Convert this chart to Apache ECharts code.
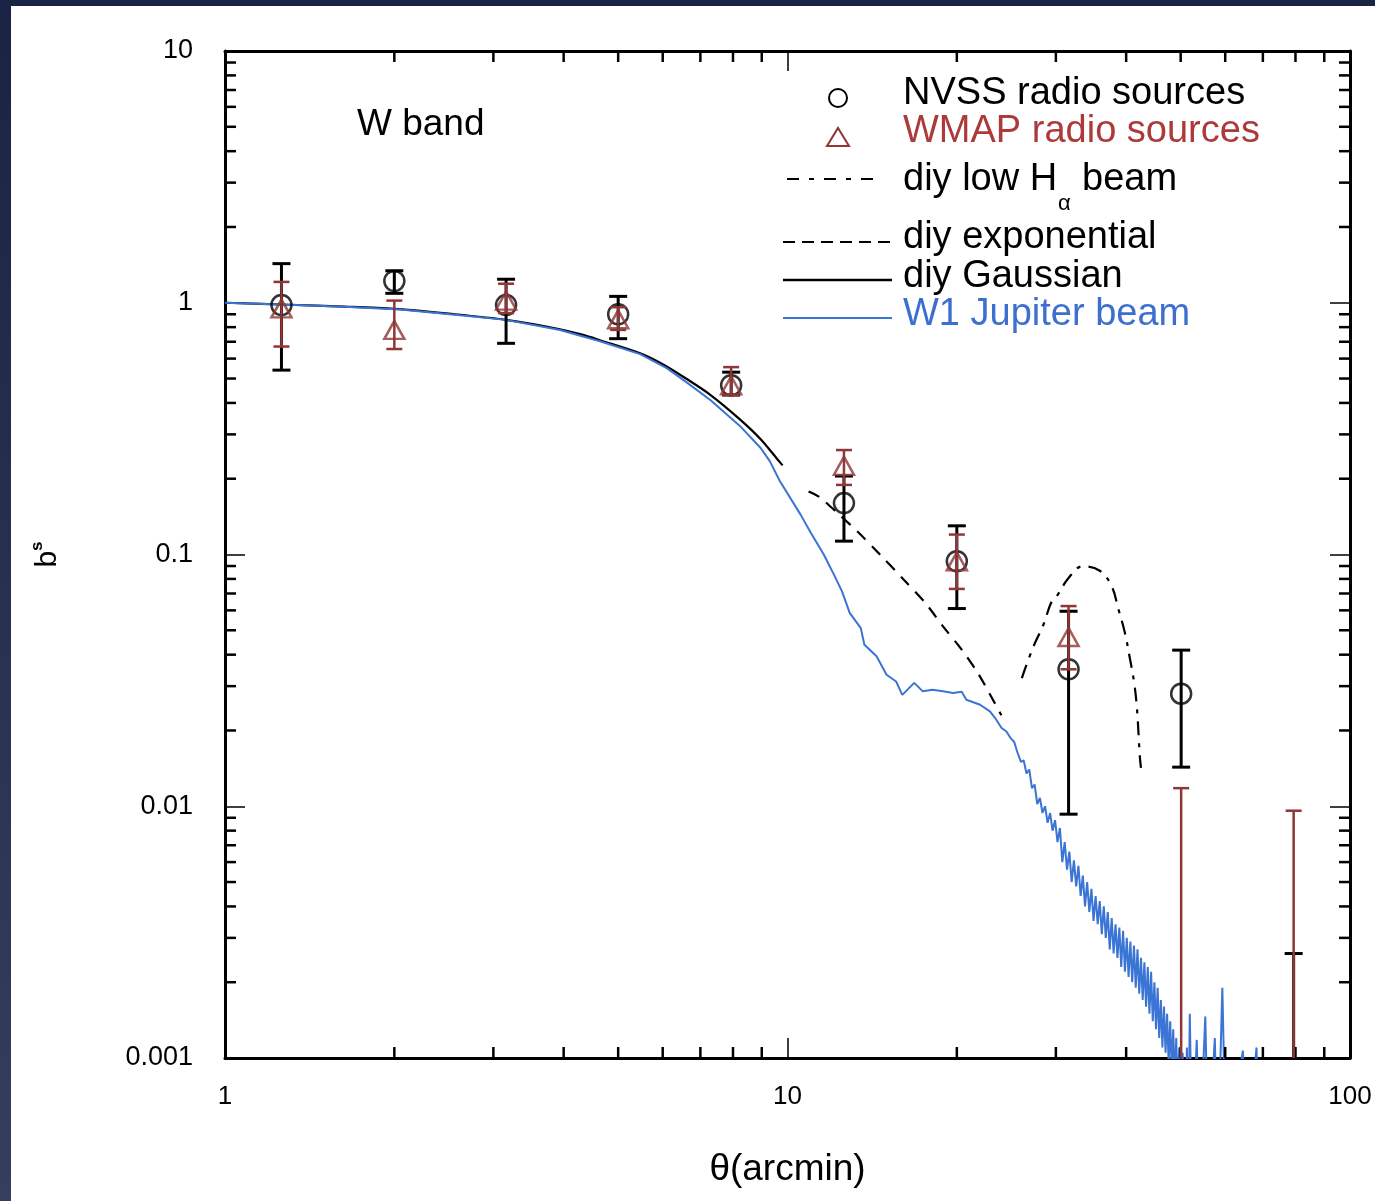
<!DOCTYPE html>
<html><head><meta charset="utf-8">
<script src="https://cdn.jsdelivr.net/npm/echarts@6/dist/echarts.min.js"></script>
<style>
html,body{margin:0;padding:0;background:#fff;overflow:hidden}
#chart{position:absolute;left:0;top:0;width:1375px;height:1201px}
#edgeL{position:absolute;left:0;top:0;width:11px;height:1201px;background:linear-gradient(#1b2344,#363e5f)}
#edgeT{position:absolute;left:0;top:0;width:1375px;height:6px;background:#1b2344}
</style></head><body>
<div id="chart"></div><div id="edgeL"></div><div id="edgeT"></div>
<script>
// ---- data ----
const thetaBins = [1.26, 2.0, 3.16, 5.0, 7.94, 12.6, 20.0, 31.6, 50.1, 79.4];
const nvssVal = [0.98, 1.22, 0.98, 0.90, 0.47, 0.16, 0.094, 0.035, 0.028, null];
const nvssHi  = [1.43, 1.34, 1.24, 1.06, 0.53, 0.205, 0.13, 0.0595, 0.0417, 0.0026];
const nvssLo  = [0.54, 1.09, 0.69, 0.72, 0.43, 0.113, 0.061, 0.0093, 0.0143, 0.0001];
const wmapVal = [0.95, 0.78, 1.02, 0.86, 0.47, 0.225, 0.094, 0.047, null, null];
const wmapHi  = [1.21, 1.02, 1.19, 0.96, 0.555, 0.26, 0.12, 0.0624, 0.0118, 0.0096];
const wmapLo  = [0.67, 0.655, 0.91, 0.78, 0.43, 0.189, 0.073, 0.035, 0.0001, 0.0001];

const gaussianBeam = [[1,1],[1.3,0.982],[1.63,0.965],[2.0,0.945],[2.5,0.905],[3.16,0.855],[3.94,0.785],[4.33,0.745],[4.64,0.71],[5.47,0.63],[6.0,0.57],[6.6,0.5],[7.3,0.43],[8.22,0.345],[8.96,0.287],[9.61,0.238],[9.8,0.226]];
const expBeam = [[10.9,0.178],[11.4,0.169],[12.4,0.143],[13.4,0.1217],[14.6,0.1],[16.1,0.0794],[17.6,0.064],[18.9,0.0518],[20.4,0.0419],[21.8,0.0338],[23.4,0.0255],[24.0,0.023]];
const lowHBeam = [[26.1,0.0323],[27.3,0.0425],[28.5,0.0526],[29.5,0.0652],[30.2,0.069],[31.6,0.0807],[33.5,0.0898],[35.9,0.0862],[37.7,0.0748],[38.7,0.0613],[39.8,0.0488],[40.6,0.0388],[41.3,0.0313],[41.8,0.0246],[42.3,0.0158],[42.5,0.0142]];
const jupiterBeam = [[1.0,1.0],[1.26,0.985],[1.63,0.965],[2.05,0.94],[2.51,0.9],[3.16,0.855],[3.94,0.78],[4.64,0.703],[5.47,0.625],[6.1,0.55],[6.6,0.485],[7.3,0.41],[8.22,0.325],[8.96,0.265],[9.3,0.235],[9.69,0.196],[10.55,0.144],[11.0,0.122],[11.6,0.1],[12.1,0.083],[12.5,0.0714],[12.9,0.0586],[13.5,0.051],[13.7,0.0438],[14.4,0.0394],[15.0,0.0333],[15.6,0.0313],[16.0,0.0277],[16.8,0.0309],[17.4,0.0286],[18.1,0.029],[18.9,0.0286],[19.7,0.0282],[20.4,0.0285],[20.8,0.0265],[22.0,0.0253],[22.9,0.0238],[23.4,0.0224],[24.0,0.0205],[24.5,0.0198],[24.9,0.0187],[25.3,0.018],[25.6,0.0165],
[26.0,0.0150],[26.3,0.0152],[26.6,0.0135],[26.9,0.0140],[27.2,0.0118],[27.5,0.0122],[27.8,0.0102],[28.1,0.0108],[28.4,0.0094],[28.7,0.0100],[29.0,0.0086],[29.3,0.0094],[29.6,0.0080],[29.9,0.0088],[30.2,0.0072],[30.5,0.0082],[30.8,0.0060],[31.1,0.0072],[31.4,0.0056],[31.7,0.0066],[32.0,0.0050],[32.3,0.0061],[32.6,0.0048],[32.9,0.0058],[33.2,0.0044],[33.5,0.0053],[33.8,0.0040],[34.1,0.0050],[34.4,0.0038],[34.7,0.0047],[35.0,0.0035],[35.3,0.0044],[35.6,0.0034],[35.9,0.0042],[36.2,0.0031],[36.5,0.0040],[36.8,0.0030],[37.1,0.0038],[37.4,0.0027],[37.7,0.0036],[38.0,0.0026],[38.3,0.0034],[38.6,0.0025],[38.9,0.0033],[39.2,0.0023],[39.5,0.0032],[39.8,0.0022],[40.1,0.0030],[40.4,0.0021],[40.7,0.0029],[41.0,0.0020],[41.3,0.0028],[41.6,0.0019],[41.9,0.0027],[42.2,0.0018],[42.5,0.0025],[42.8,0.0017],[43.1,0.0024],[43.4,0.0016],[43.7,0.0023],[44.0,0.0015],[44.3,0.0022],[44.6,0.0014],[44.9,0.0020],[45.2,0.0013],[45.5,0.0019],[45.8,0.0012],[46.1,0.0017],[46.4,0.0011],[46.7,0.0016],[47.0,0.00105],[47.3,0.0015],[47.6,0.00095],[47.9,0.0014],[48.2,0.0009],[48.5,0.0013],[48.8,0.0008],[49.1,0.0012],[49.4,0.0007],[49.7,0.0011],[50.0,0.0006],[50.4,0.00105],[50.8,0.0005],[51.3,0.0011],[51.6,0.0004],[51.9,0.0015],[52.4,0.0004],[53.4,0.00118],[54.0,0.0004],[55.3,0.00146],[56.0,0.0004],[57.5,0.0012],[58.2,0.0004],[59.3,0.0019],[60.2,0.0004],[64.5,0.00107],[65.5,0.0004],[68.2,0.0011],[69.0,0.0004]];

const xTickLabels = ['1', '10', '100'];
const yTickLabels = ['0.001', '0.01', '0.1', '1', '10'];
const xMinorTicks = [2,3,4,5,6,7,8,9,20,30,40,50,60,70,80,90];
const yMinorTicks = [0.002,0.003,0.004,0.005,0.006,0.007,0.008,0.009,0.02,0.03,0.04,0.05,0.06,0.07,0.08,0.09,0.2,0.3,0.4,0.5,0.6,0.7,0.8,0.9,2,3,4,5,6,7,8,9];

// ---- styles ----
const FONT = "'Liberation Sans', Arial, Helvetica, sans-serif";
const RED = '#8f3636', REDTXT = '#ad3a3a', BLUE = '#3a74d4', BLUETXT = '#3c6fd0';

function errSeries(name, lo, hi, color, barW, capW, z) {
  return {
    type: 'custom', name, z, clip: true, silent: true,
    data: thetaBins.map((t, i) => [t, lo[i], hi[i]]),
    renderItem(params, api) {
      const x = api.value(0);
      const p1 = api.coord([x, api.value(1)]);
      const p2 = api.coord([x, api.value(2)]);
      const h = capW / 2;
      const st = { stroke: color, lineWidth: barW };
      return { type: 'group', children: [
        { type: 'line', shape: { x1: p1[0], y1: p1[1], x2: p2[0], y2: p2[1] }, style: st },
        { type: 'line', shape: { x1: p1[0] - h, y1: p1[1], x2: p1[0] + h, y2: p1[1] }, style: st },
        { type: 'line', shape: { x1: p2[0] - h, y1: p2[1], x2: p2[0] + h, y2: p2[1] }, style: st }
      ]};
    }
  };
}
function minorTickSeries(values, isX) {
  return {
    type: 'custom', silent: true, z: 6, clip: false,
    data: values.map(v => isX ? [v, 1] : [1, v]),
    renderItem(params, api) {
      const st = { stroke: '#000', lineWidth: 2.5 };
      const L = 11;
      if (isX) {
        const v = api.value(0);
        const b = api.coord([v, 0.001]), t = api.coord([v, 10]);
        return { type: 'group', children: [
          { type: 'line', shape: { x1: b[0], y1: b[1], x2: b[0], y2: b[1] - L }, style: st },
          { type: 'line', shape: { x1: t[0], y1: t[1], x2: t[0], y2: t[1] + L }, style: st }
        ]};
      } else {
        const v = api.value(1);
        const l = api.coord([1, v]), r = api.coord([100, v]);
        return { type: 'group', children: [
          { type: 'line', shape: { x1: l[0], y1: l[1], x2: l[0] + L, y2: l[1] }, style: st },
          { type: 'line', shape: { x1: r[0], y1: r[1], x2: r[0] - L, y2: r[1] }, style: st }
        ]};
      }
    }
  };
}
const labelOf = (arr, v) => arr[Math.round(Math.log10(v)) - Math.round(Math.log10(parseFloat(arr[0])))] || '';

const axisCommon = {
  type: 'log', logBase: 10,
  axisLine: { show: true, onZero: false, lineStyle: { color: '#000', width: 3 } },
  axisTick: { show: true, inside: true, length: 20, lineStyle: { color: '#000', width: 1.5 } },
  splitLine: { show: false }, minorTick: { show: false }
};

const chart = echarts.init(document.getElementById('chart'), null, { renderer: 'canvas' });
chart.setOption({
  animation: false,
  backgroundColor: '#fff',
  grid: { left: 225, top: 51, width: 1125, height: 1007 },
  xAxis: [
    Object.assign({}, axisCommon, {
      min: 1, max: 100, position: 'bottom',
      axisLabel: { margin: 26, fontSize: 26, fontFamily: FONT, color: '#000', formatter: v => labelOf(xTickLabels, v) },
      name: 'θ(arcmin)', nameLocation: 'middle', nameGap: 93,
      nameTextStyle: { fontSize: 37, fontFamily: FONT, color: '#000' }
    }),
    Object.assign({}, axisCommon, { min: 1, max: 100, position: 'top', axisLabel: { show: false } })
  ],
  yAxis: [
    Object.assign({}, axisCommon, {
      min: 0.001, max: 10, position: 'left',
      axisLabel: { margin: 32, fontSize: 27, fontFamily: FONT, color: '#000', formatter: v => labelOf(yTickLabels, v) },
      name: '{b|b}{s|s}', nameLocation: 'middle', nameGap: 162, nameRotate: 90,
      nameTextStyle: { fontFamily: FONT, color: '#000', rich: {
        b: { fontSize: 30, fontFamily: FONT, color: '#000', verticalAlign: 'bottom', lineHeight: 34 },
        s: { fontSize: 17, fontFamily: FONT, color: '#000', verticalAlign: 'top', lineHeight: 34, fontWeight: 'bold' }
      }}
    }),
    Object.assign({}, axisCommon, { min: 0.001, max: 10, position: 'right', axisLabel: { show: false } })
  ],
  series: [
    { name: 'diy Gaussian', type: 'line', data: gaussianBeam, showSymbol: false, smooth: 0.3, z: 2,
      lineStyle: { color: '#000', width: 2.2 } },
    { name: 'diy exponential', type: 'line', data: expBeam, showSymbol: false, smooth: 0.3, z: 2,
      lineStyle: { color: '#000', width: 2.2, type: [12, 9] } },
    { name: 'diy low Hα beam', type: 'line', data: lowHBeam, showSymbol: false, smooth: 0.4, z: 2,
      lineStyle: { color: '#000', width: 2.2, type: [14, 8, 4, 8] } },
    { name: 'W1 Jupiter beam', type: 'line', data: jupiterBeam, showSymbol: false, z: 3,
      lineStyle: { color: BLUE, width: 2 } },
    errSeries('NVSS errors', nvssLo, nvssHi, '#000', 3, 18, 4),
    { name: 'NVSS radio sources', type: 'scatter', z: 5, symbol: 'circle', symbolSize: 20,
      data: thetaBins.map((t, i) => [t, nvssVal[i]]).filter(d => d[1] != null),
      itemStyle: { color: 'rgba(0,0,0,0)', borderColor: '#000', borderWidth: 2.5 } },
    errSeries('WMAP errors', wmapLo, wmapHi, RED, 2.5, 16, 7),
    { name: 'WMAP radio sources', type: 'scatter', z: 8, symbol: 'triangle', symbolSize: [20, 18],
      data: thetaBins.map((t, i) => [t, wmapVal[i]]).filter(d => d[1] != null),
      itemStyle: { color: 'rgba(0,0,0,0)', borderColor: RED, borderWidth: 2.5 } },
    minorTickSeries(xMinorTicks, true),
    minorTickSeries(yMinorTicks, false)
  ],
  graphic: [
    { type: 'text', x: 357, y: 125, style: { text: 'W band', fontSize: 37, fontFamily: FONT, fill: '#000', verticalAlign: 'middle', align: 'left' } },
    { type: 'circle', shape: { cx: 838, cy: 98, r: 9 }, style: { fill: 'none', stroke: '#000', lineWidth: 2 } },
    { type: 'text', x: 903, y: 94, style: { text: 'NVSS radio sources', fontSize: 38, fontFamily: FONT, fill: '#000', verticalAlign: 'middle' } },
    { type: 'polygon', shape: { points: [[827, 146], [849, 146], [838, 128]] }, style: { fill: 'none', stroke: RED, lineWidth: 2 } },
    { type: 'text', x: 903, y: 132, style: { text: 'WMAP radio sources', fontSize: 38, fontFamily: FONT, fill: REDTXT, verticalAlign: 'middle' } },
    { type: 'line', shape: { x1: 787, y1: 179, x2: 878, y2: 179 }, style: { stroke: '#000', lineWidth: 2, lineDash: [12, 10, 5, 10] } },
    { type: 'text', x: 903, y: 180, style: { text: 'diy low H', fontSize: 38, fontFamily: FONT, fill: '#000', verticalAlign: 'middle' } },
    { type: 'text', x: 1058, y: 204, style: { text: 'α', fontSize: 22, fontFamily: FONT, fill: '#000', verticalAlign: 'middle' } },
    { type: 'text', x: 1082, y: 180, style: { text: 'beam', fontSize: 38, fontFamily: FONT, fill: '#000', verticalAlign: 'middle' } },
    { type: 'line', shape: { x1: 783, y1: 242, x2: 893, y2: 242 }, style: { stroke: '#000', lineWidth: 2, lineDash: [12, 7] } },
    { type: 'text', x: 903, y: 238, style: { text: 'diy exponential', fontSize: 38, fontFamily: FONT, fill: '#000', verticalAlign: 'middle' } },
    { type: 'line', shape: { x1: 783, y1: 280, x2: 892, y2: 280 }, style: { stroke: '#000', lineWidth: 2.5 } },
    { type: 'text', x: 903, y: 277, style: { text: 'diy Gaussian', fontSize: 38, fontFamily: FONT, fill: '#000', verticalAlign: 'middle' } },
    { type: 'line', shape: { x1: 783, y1: 318, x2: 892, y2: 318 }, style: { stroke: BLUE, lineWidth: 2 } },
    { type: 'text', x: 903, y: 315, style: { text: 'W1 Jupiter beam', fontSize: 38, fontFamily: FONT, fill: BLUETXT, verticalAlign: 'middle' } }
  ]
});
</script>
</body></html>
